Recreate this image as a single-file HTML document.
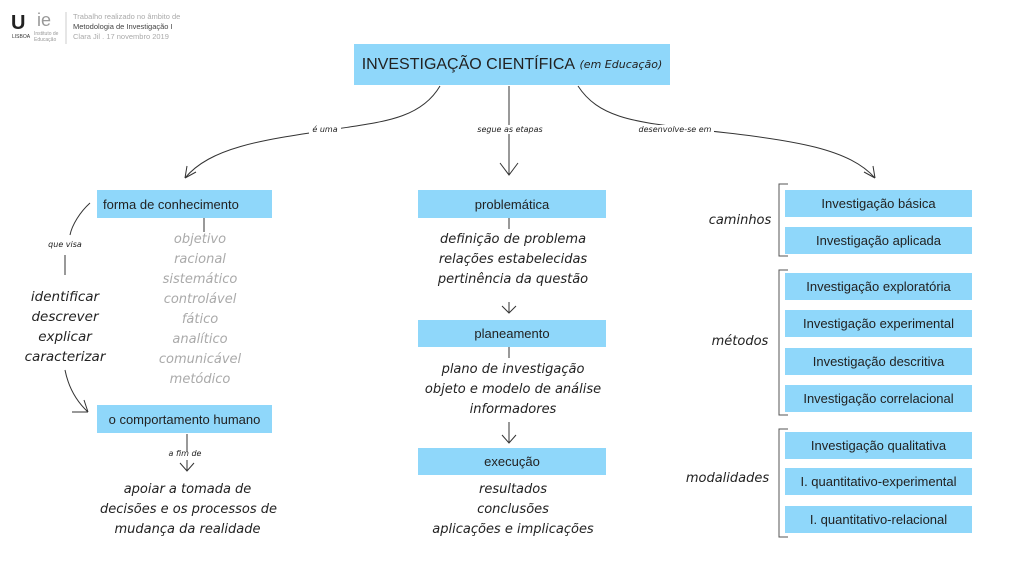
<!DOCTYPE html>
<html><head><meta charset="utf-8"><style>
body{margin:0;width:1024px;height:575px;background:#fff;position:relative;overflow:hidden;font-family:"Liberation Sans","DejaVu Sans",sans-serif;}
.b{position:absolute;background:#8fd7fa;color:#222;font-size:13px;display:flex;align-items:center;justify-content:center;white-space:nowrap;}
.h{position:absolute;font-family:"DejaVu Sans",sans-serif;font-style:italic;color:#222;text-align:center;white-space:nowrap;}
.l{background:#fff;padding:0 3px}
.g{color:#aaa}
svg{position:absolute;left:0;top:0}
</style></head><body>
<svg width="1024" height="575" fill="none" stroke="#333" stroke-width="1">
<path d="M440 86 C420 120 380 122 330 130 C260 140 210 148 185 178"/>
<path d="M185 178 l2 -12 M185 178 l11 -6"/>
<path d="M509 86 V175 M500 163 L509 175 L518 163"/>
<path d="M578 86 C600 120 640 122 700 130 C800 140 850 150 875 178"/>
<path d="M875 178 l-11 -6 M875 178 l-2 -12"/>
<path d="M90 203 C80 212 72 225 70 235 M65 255 V275 M65 370 C68 385 75 400 88 412 M72 412 H88 M88 412 L84 400"/>
<ellipse cx="203" cy="203" rx="46" ry="11"/>
<path d="M204 218 V232"/>
<path d="M509 218 V229 M509 302 V313 M502 306 L509 313 L516 306 M509 347 V358 M509 422 V443 M502 435 L509 443 L516 435"/>
<path d="M187 434 V452 M187 460 V471 M180 463 L187 471 L194 463"/>
<path d="M788 184 H779 V256 H788 M788 270 H779 V415 H788 M788 429 H779 V537 H788" stroke="#555"/>
<path d="M66 12 V44" stroke="#ccc"/>
</svg>
<div style="position:absolute;left:11px;top:12px;font:bold 20px 'Liberation Sans';color:#222">U</div>
<div style="position:absolute;left:12px;top:34px;font-size:5px;color:#333">LISBOA</div>
<div style="position:absolute;left:37px;top:10px;font:18px 'Liberation Sans';color:#999">ie</div>
<div style="position:absolute;left:34px;top:31px;font-size:5px;color:#999;line-height:6px">Instituto de<br>Educação</div>
<div style="position:absolute;left:73px;top:12px;font-size:7.5px;line-height:10px;color:#aaa">Trabalho realizado no âmbito de<br><span style="color:#444">Metodologia de Investigação I</span><br>Clara Jil . 17 novembro 2019</div>
<div class="b" style="left:354px;top:44px;width:316px;height:41px;font-size:16px">INVESTIGAÇÃO CIENTÍFICA&nbsp;<span style="font-family:'DejaVu Sans';font-style:italic;font-size:11px">(em Educação)</span></div>
<div class="h" style="left:300px;top:125px;width:50px;font-size:8px"><span class="l">é uma</span></div>
<div class="h" style="left:460px;top:125px;width:100px;font-size:8px"><span class="l">segue as etapas</span></div>
<div class="h" style="left:620px;top:125px;width:110px;font-size:8px"><span class="l">desenvolve-se em</span></div>
<div class="b" style="left:97px;top:190px;width:175px;height:28px;justify-content:flex-start;padding-left:6px;box-sizing:border-box">forma de conhecimento</div>
<div class="h" style="left:40px;top:240px;width:50px;font-size:8px">que visa</div>
<div class="h" style="left:15px;top:287px;width:100px;font-size:13.5px;line-height:20px">identificar<br>descrever<br>explicar<br>caracterizar</div>
<div class="h g" style="left:140px;top:230px;width:120px;font-size:13px;line-height:20px">objetivo<br>racional<br>sistemático<br>controlável<br>fático<br>analítico<br>comunicável<br>metódico</div>
<div class="b" style="left:97px;top:405px;width:175px;height:28px">o comportamento humano</div>
<div class="h" style="left:160px;top:449px;width:50px;font-size:8px">a fim de</div>
<div class="h" style="left:100px;top:480px;width:175px;font-size:13px;line-height:20px">apoiar a tomada de<br>decisões e os processos de<br>mudança da realidade</div>
<div class="b" style="left:418px;top:190px;width:188px;height:28px">problemática</div>
<div class="h" style="left:413px;top:230px;width:200px;font-size:13px;line-height:20px">definição de problema<br>relações estabelecidas<br>pertinência da questão</div>
<div class="b" style="left:418px;top:320px;width:188px;height:27px">planeamento</div>
<div class="h" style="left:413px;top:360px;width:200px;font-size:13px;line-height:20px">plano de investigação<br>objeto e modelo de análise<br>informadores</div>
<div class="b" style="left:418px;top:448px;width:188px;height:27px">execução</div>
<div class="h" style="left:413px;top:480px;width:200px;font-size:13px;line-height:20px">resultados<br>conclusões<br>aplicações e implicações</div>
<div class="h" style="left:705px;top:213px;width:70px;font-size:13px">caminhos</div>
<div class="h" style="left:705px;top:334px;width:70px;font-size:13px">métodos</div>
<div class="h" style="left:680px;top:471px;width:95px;font-size:13px">modalidades</div>
<div class="b" style="left:785px;top:190px;width:187px;height:27px">Investigação básica</div>
<div class="b" style="left:785px;top:227px;width:187px;height:27px">Investigação aplicada</div>
<div class="b" style="left:785px;top:273px;width:187px;height:27px">Investigação exploratória</div>
<div class="b" style="left:785px;top:310px;width:187px;height:27px">Investigação experimental</div>
<div class="b" style="left:785px;top:348px;width:187px;height:27px">Investigação descritiva</div>
<div class="b" style="left:785px;top:385px;width:187px;height:27px">Investigação correlacional</div>
<div class="b" style="left:785px;top:432px;width:187px;height:27px">Investigação qualitativa</div>
<div class="b" style="left:785px;top:468px;width:187px;height:27px">I. quantitativo-experimental</div>
<div class="b" style="left:785px;top:506px;width:187px;height:27px">I. quantitativo-relacional</div>
</body></html>
